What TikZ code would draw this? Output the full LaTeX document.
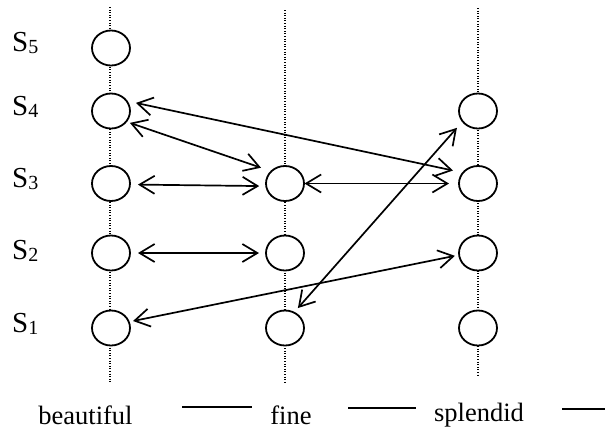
\documentclass[tikz,border=0pt]{standalone}
\usepackage{fontspec}
\setmainfont{Liberation Serif}
\usetikzlibrary{arrows.meta,shapes.geometric}
\newcommand\stlab[1]{S\raisebox{-2pt}{\fontsize{20}{21}\selectfont #1}}
\begin{document}
\begin{tikzpicture}[x=1pt,y=-1pt,
  state/.style={ellipse,draw,line width=1.8pt,fill=white,minimum width=38pt,
    minimum height=35pt,inner sep=0pt,outer sep=0pt},
  lane/.style={line width=1.1pt,dash pattern=on 1pt off 1.6pt},
  link/.style={line width=1.7pt,
    {Straight Barb[length=15pt,width=18pt]}-{Straight Barb[length=15pt,width=18pt]}},
  lbl/.style={anchor=base west,inner sep=0pt,font=\fontsize{29}{32}\selectfont},
  word/.style={anchor=base,inner sep=0pt,text depth=0pt,font=\fontsize{26.5}{30}\selectfont},
  rule/.style={line width=1.7pt}]
\useasboundingbox (0,0) rectangle (605,429);

% dotted lanes, one per word
\coordinate (ta) at (110,7);   \coordinate (ba) at (110,382);
\coordinate (tb) at (285,10);  \coordinate (bb) at (285,382);
\coordinate (tc) at (478,8);   \coordinate (bc) at (478,377);
\draw[lane] (ta) -- (ba);
\draw[lane] (tb) -- (bb);
\draw[lane] (tc) -- (bc);

% states
\node[state] (a5) at (111,48) {};
\node[state] (a4) at (111,111) {};
\node[state] (a3) at (111,183.5) {};
\node[state] (a2) at (111,253) {};
\node[state] (a1) at (111,328) {};
\node[state] (b3) at (285,183.5) {};
\node[state] (b2) at (285,253) {};
\node[state] (b1) at (285,328) {};
\node[state] (c4) at (478,111) {};
\node[state] (c3) at (478,183.5) {};
\node[state] (c2) at (478,253) {};
\node[state] (c1) at (478,328) {};

% row labels
\node[lbl] (s5) at (12,51)  {\stlab{5}};
\node[lbl] (s4) at (12,115) {\stlab{4}};
\node[lbl] (s3) at (12,187) {\stlab{3}};
\node[lbl] (s2) at (12,259) {\stlab{2}};
\node[lbl] (s1) at (12,332) {\stlab{1}};

% alignments
\draw[link, shorten <=9.6pt, shorten >=10.3pt] (a4.33) -- (c3.144);
\draw[link, shorten <=4pt, shorten >=11pt] (a4.-35) -- (b3.138);
\draw[link, shorten <=8pt, shorten >=7pt] (a3.-3) -- (b3.188);
\draw[link, shorten <=0.5pt, shorten >=10pt] (b3.0) -- (c3.180);
\draw[link, shorten <=8.7pt, shorten >=6pt] (c4.214) -- (b1.60);
\draw[link, shorten <=8pt, shorten >=7pt] (a2.0) -- (b2.180);
\draw[link, shorten <=4.3pt, shorten >=4.3pt] (a1.19) -- (c2.186.5);

% words
\node[word] (w1) at (85.5,424) {beautiful};
\node[word] (w2) at (291,424) {fine};
\node[word] (w3) at (479,421) {splendid};
\coordinate (r1a) at (182,407); \coordinate (r1b) at (252,407);
\coordinate (r2a) at (348,408); \coordinate (r2b) at (416,408);
\coordinate (r3a) at (562,409); \coordinate (r3b) at (605,409);
\draw[rule] (r1a) -- (r1b);
\draw[rule] (r2a) -- (r2b);
\draw[rule] (r3a) -- (r3b);
\end{tikzpicture}
\end{document}
